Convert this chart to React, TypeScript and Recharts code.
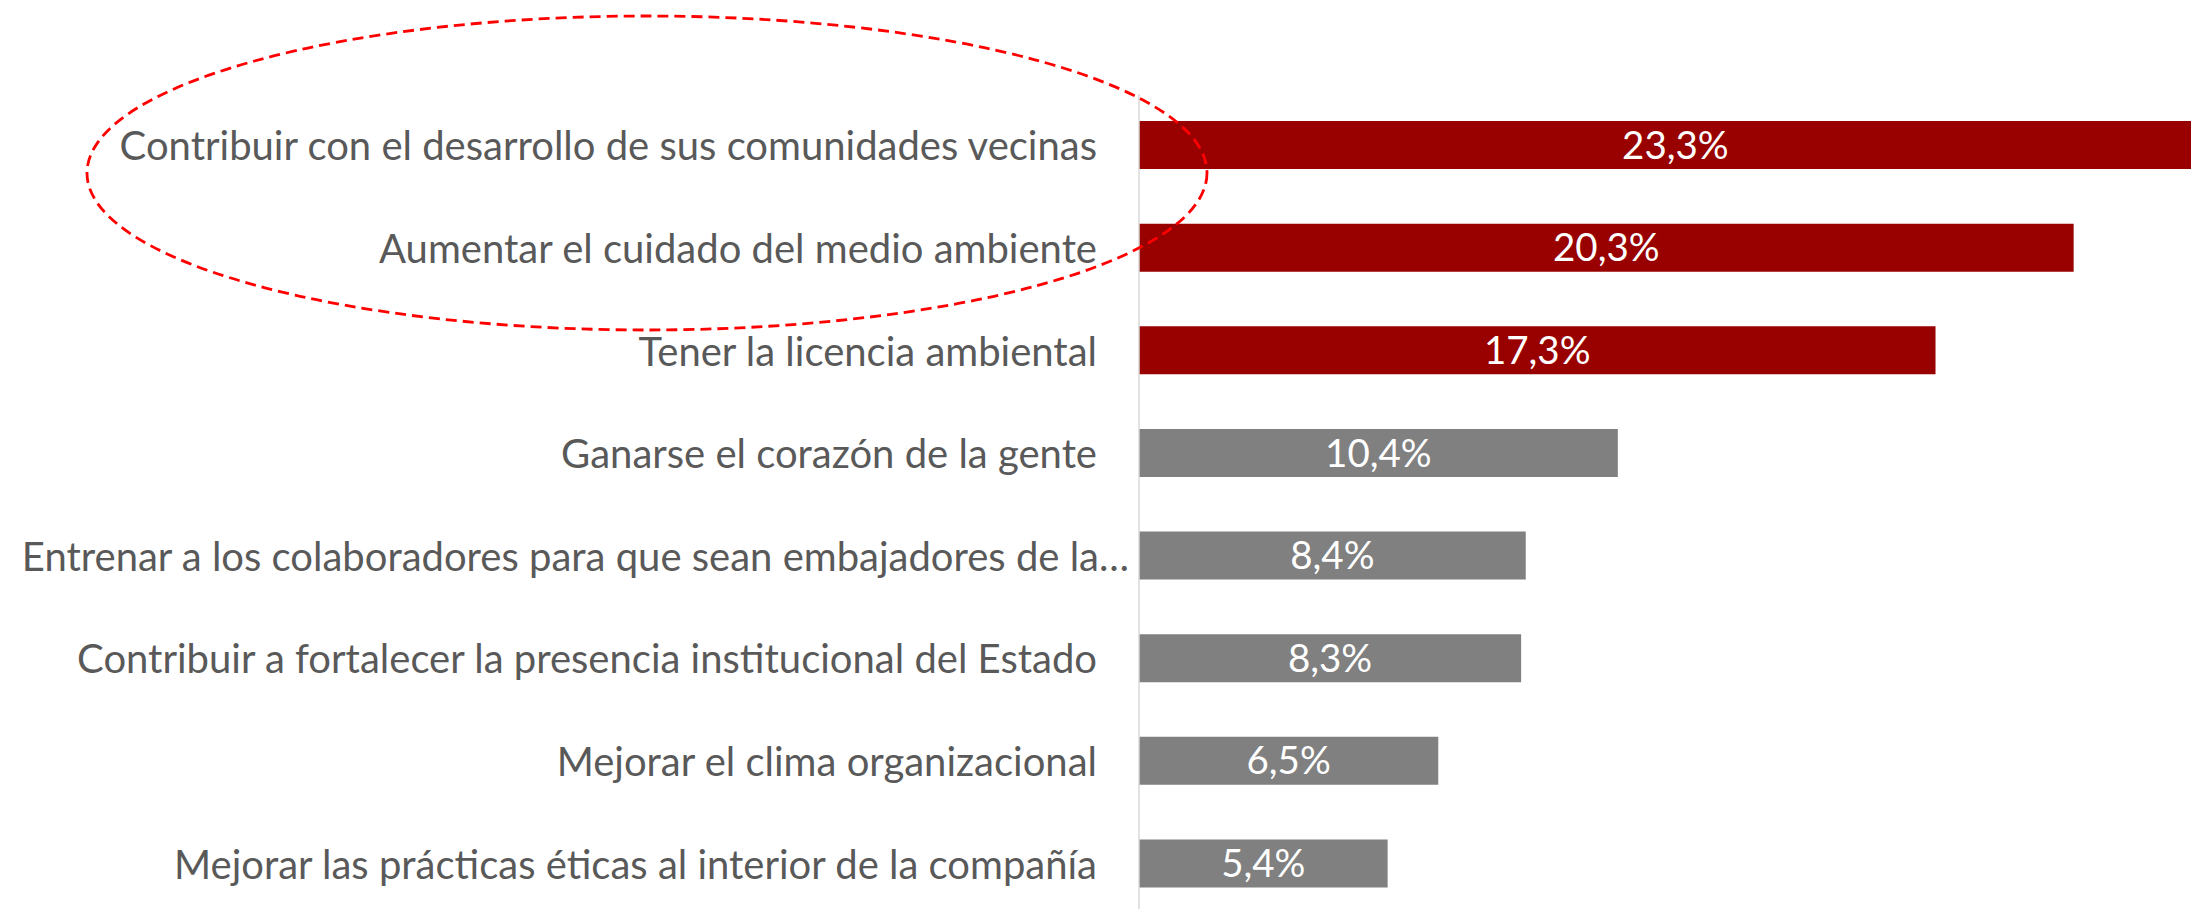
import { BarChart, Bar, XAxis, YAxis, Cell, LabelList } from "recharts";

// categories, top to bottom as they appear
const categories = [
  "Contribuir con el desarrollo de sus comunidades vecinas",
  "Aumentar el cuidado del medio ambiente",
  "Tener la licencia ambiental",
  "Ganarse el corazón de la gente",
  "Entrenar a los colaboradores para que sean embajadores de la…",
  "Contribuir a fortalecer la presencia institucional del Estado",
  "Mejorar el clima organizacional",
  "Mejorar las prácticas éticas al interior de la compañía",
];

const shares = [23.3, 20.3, 17.3, 10.4, 8.4, 8.3, 6.5, 5.4];

const highlighted = [true, true, true, false, false, false, false, false];

const FONT = "Lato, 'Open Sans', sans-serif";
const RED = "#990000";
const GREY = "#808080";

const data = categories.map((name, i) => ({
  name,
  value: shares[i],
  top: highlighted[i],
}));

const fmt = (v: any) => `${Number(v).toFixed(1).replace(".", ",")}%`;

function CategoryTick(props: any) {
  const { x, y, payload } = props;
  const label: string = payload.value;
  // Excel lets the ellipsised label run a bit closer to the axis
  const shift = label.endsWith("…") ? 32 : 0;
  return (
    <text
      x={x + shift}
      y={y}
      textAnchor="end"
      dominantBaseline="central"
      fill="#595959"
      fontSize={40}
      fontFamily={FONT}
    >
      {label}
    </text>
  );
}

export default function App() {
  return (
    <div
      style={{
        position: "fixed",
        left: 0,
        top: 0,
        width: 2191,
        height: 909,
        overflow: "hidden",
        background: "#fff",
      }}
    >
      <BarChart
        width={2244}
        height={920}
        data={data}
        layout="vertical"
        margin={{ top: 94, right: 0, bottom: 5, left: 0 }}
      >
        <XAxis type="number" domain={[0, 24]} hide />
        <YAxis
          type="category"
          dataKey="name"
          width={1139}
          axisLine={{ stroke: "#d9d9d9", strokeWidth: 1.5 }}
          tickLine={false}
          tickMargin={36}
          interval={0}
          tick={<CategoryTick />}
        />
        <Bar dataKey="value" barSize={48} isAnimationActive={false}>
          {data.map((d, i) => (
            <Cell key={i} fill={d.top ? RED : GREY} />
          ))}
          <LabelList
            dataKey="value"
            position="center"
            formatter={fmt}
            fill="#ffffff"
            fontSize={38.5}
            fontFamily={FONT}
          />
        </Bar>
      </BarChart>

      {/* dashed highlight around the first two categories */}
      <svg
        width={2191}
        height={909}
        style={{ position: "absolute", left: 0, top: 0, pointerEvents: "none" }}
      >
        <ellipse
          cx={647}
          cy={173}
          rx={560}
          ry={157}
          fill="none"
          stroke="#ff0000"
          strokeWidth={2.8}
          strokeDasharray="11 6"
        />
      </svg>
    </div>
  );
}
